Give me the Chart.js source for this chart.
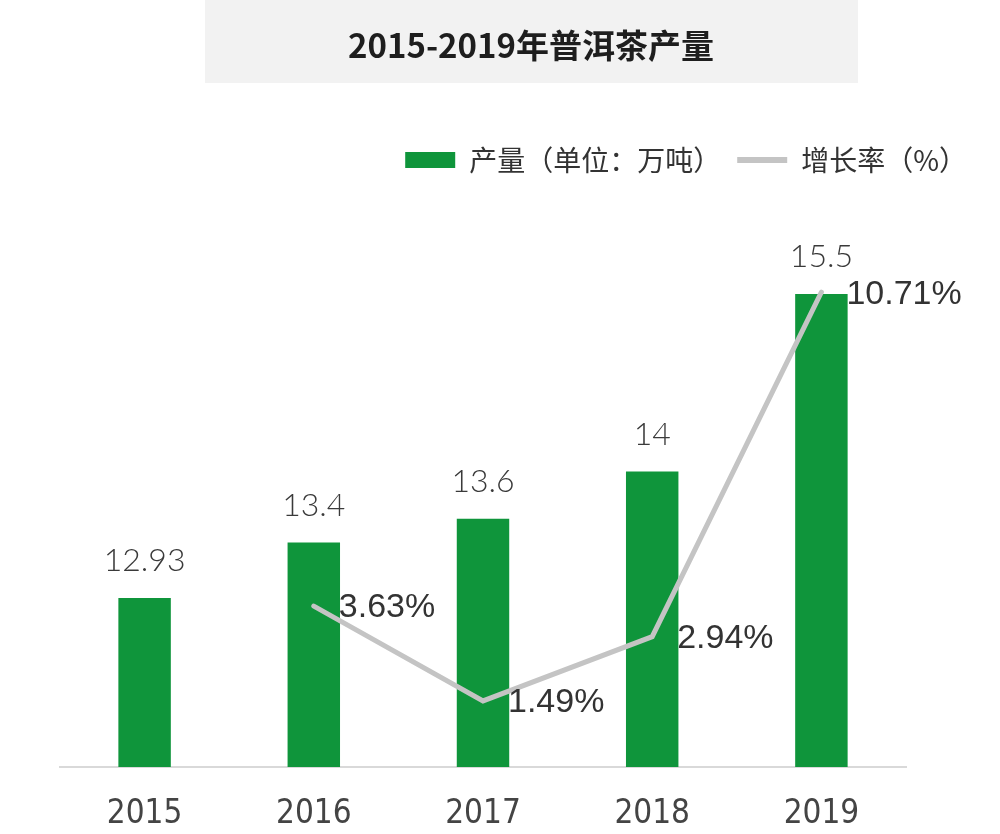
<!DOCTYPE html>
<html>
<head>
<meta charset="utf-8">
<script src="https://cdn.jsdelivr.net/npm/chart.js@4"></script>
<style>
  html, body { margin: 0; padding: 0; background: #ffffff; }
  #wrap { width: 1000px; height: 834px; }
</style>
</head>
<body>
<div id="wrap"><canvas id="chart"></canvas></div>
<script>
const years = ["2015", "2016", "2017", "2018", "2019"];
const output = [12.93, 13.4, 13.6, 14, 15.5];
const growth = [null, 3.63, 1.49, 2.94, 10.71];

const titleText = "2015-2019年普洱茶产量";
const outputLabel = "产量（单位：万吨）";
const growthLabel = "增长率（%）";

const green = "#0f953b";
const grey = "#c4c4c4";

// grey box with the title text
const titleBox = {
  id: "titleBox",
  beforeDraw(chart) {
    const ctx = chart.ctx;
    ctx.save();
    ctx.fillStyle = "#f2f2f2";
    ctx.fillRect(205, 0, 653, 83);
    ctx.fillStyle = "#1e1e1e";
    ctx.font = "bold 33px 'Noto Sans CJK SC', sans-serif";
    ctx.textAlign = "center";
    ctx.textBaseline = "middle";
    ctx.fillText(titleText, 531, 45);
    ctx.restore();
  },
};

// value labels above bars / next to line points
const valueLabels = {
  id: "valueLabels",
  afterDatasetsDraw(chart) {
    const ctx = chart.ctx;
    ctx.save();
    ctx.textBaseline = "middle";

    const barMeta = chart.getDatasetMeta(0);
    ctx.fillStyle = "#3a3a3a";
    ctx.font = "300 32px Lato, 'Open Sans', sans-serif";
    ctx.textAlign = "center";
    barMeta.data.forEach((bar, i) => {
      ctx.fillText(String(output[i]), bar.x, bar.y - 37);
    });

    const lineMeta = chart.getDatasetMeta(1);
    ctx.fillStyle = "#333333";
    ctx.font = "34px 'Liberation Sans', Arial, sans-serif";
    ctx.textAlign = "left";
    lineMeta.data.forEach((pt, i) => {
      if (growth[i] === null) return;
      ctx.fillText(growth[i].toFixed(2) + "%", pt.x + 25, pt.y + 2);
    });
    ctx.restore();
  },
};

// extra space under the legend, and push the legend to the right edge
const legendSpacer = {
  id: "legendSpacer",
  beforeInit(chart) {
    const fit = chart.legend.fit;
    chart.legend.fit = function () {
      fit.bind(chart.legend)();
      this.height += 51;
    };
  },
  afterLayout(chart) {
    chart.legend.left += 77;
    chart.legend.right += 77;
  },
};

const ctx = document.getElementById("chart").getContext("2d");

new Chart(ctx, {
  type: "bar",
  data: {
    labels: years,
    datasets: [
      {
        type: "bar",
        label: outputLabel,
        data: output,
        backgroundColor: green,
        barPercentage: 0.31,
        categoryPercentage: 1,
        yAxisID: "y",
        order: 2,
      },
      {
        type: "line",
        label: growthLabel,
        data: growth,
        borderColor: grey,
        backgroundColor: grey,
        borderWidth: 5,
        pointRadius: 0,
        tension: 0,
        borderCapStyle: "round",
        yAxisID: "y2",
        order: 1,
      },
    ],
  },
  options: {
    responsive: true,
    maintainAspectRatio: false,
    animation: false,
    layout: {
      padding: { left: 60, right: 94, top: 130, bottom: 4 },
    },
    scales: {
      x: {
        grid: { display: false, drawTicks: false },
        border: { display: true, color: "#d9d9d9", width: 2 },
        ticks: {
          color: "#444444",
          padding: 28,
          font: { family: "'Liberation Sans Narrow', 'DejaVu Sans Condensed', sans-serif", size: 33 },
        },
        afterFit(scale) {
          scale.height = 63;
        },
      },
      y: {
        display: false,
        min: 11.5,
        max: 16,
      },
      y2: {
        display: false,
        min: 0,
        max: 12,
      },
    },
    plugins: {
      title: { display: false },
      legend: {
        display: true,
        position: "top",
        align: "end",
        labels: {
          color: "#333333",
          usePointStyle: true,
          pointStyleWidth: 50,
          boxHeight: 16,
          padding: 16,
          font: { family: "'Noto Sans CJK SC', sans-serif", size: 28 },
          generateLabels(chart) {
            return chart.data.datasets.map((ds, i) => ({
              text: ds.label,
              fillStyle: ds.type === "bar" ? green : grey,
              strokeStyle: ds.type === "bar" ? green : grey,
              lineWidth: ds.type === "bar" ? 0 : 6,
              pointStyle: ds.type === "bar" ? "rect" : "line",
              datasetIndex: i,
              fontColor: "#333333",
            }));
          },
        },
      },
      tooltip: { enabled: false },
    },
  },
  plugins: [titleBox, valueLabels, legendSpacer],
});
</script>
</body>
</html>
